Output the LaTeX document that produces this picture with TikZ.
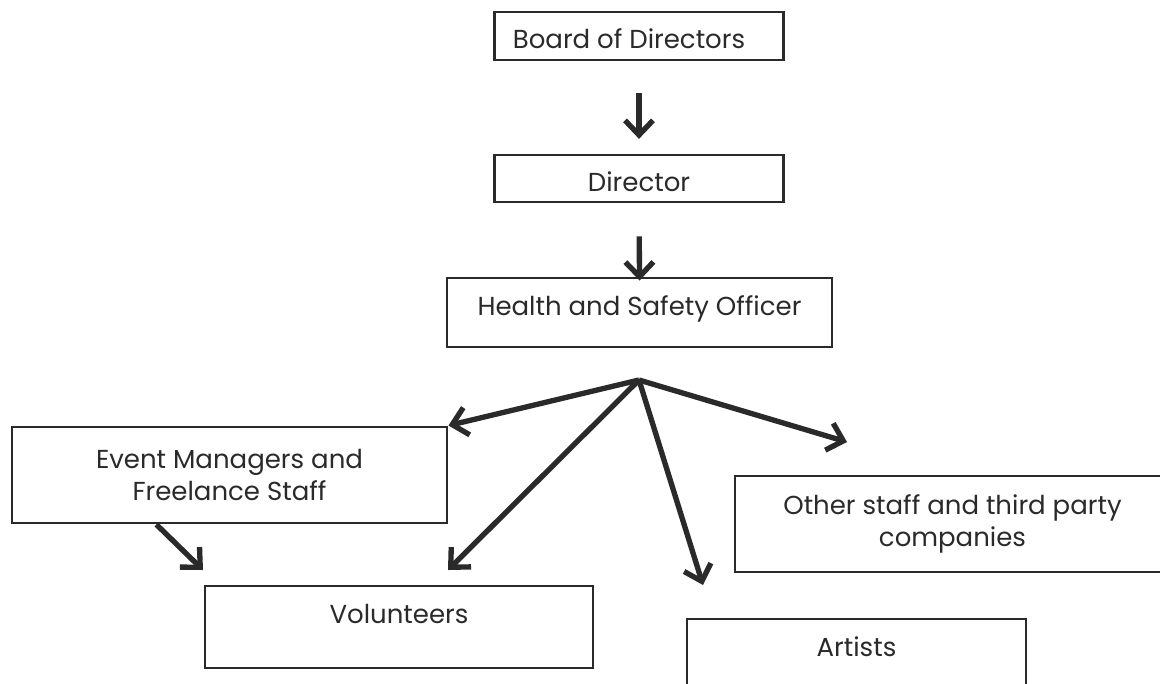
\documentclass[tikz,border=0pt]{standalone}
\usepackage{fontspec}
\setmainfont{Poppins}
\usetikzlibrary{arrows.meta,calc}
\definecolor{ink}{HTML}{2A2A2A}
\begin{document}
\begin{tikzpicture}[x=0.75pt,y=-0.75pt,
  box/.style={draw=ink, line width=2.2pt, rectangle, inner sep=0pt, align=center,
    font=\fontsize{19.5}{24}\selectfont, text=ink},
  arr/.style={draw=ink, line width=4pt, -{Straight Barb[length=11pt,width=21pt]}}]
\useasboundingbox (0,0) rectangle (1160,683);
\fill[white] (0,0) rectangle (1160,683);

\node[box, minimum width=216.75pt, minimum height=36pt, text height=18.8pt, text depth=0pt] (board) at (639,36) {\hspace*{-15pt}Board of Directors};
\node[box, minimum width=216.75pt, minimum height=35.25pt, text height=19.6pt, text depth=0pt] (dir) at (639,178.5) {Director};
\node[box, minimum width=288.75pt, minimum height=51.75pt, text height=13.6pt, text depth=9.8pt] (hso) at (639.5,312.5) {Health and Safety Officer};
\node[box, minimum width=326.25pt, minimum height=72pt] (em) at (229.5,475) {Event Managers and\\Freelance Staff};
\node[box, minimum width=291pt, minimum height=61.5pt, text height=13.6pt, text depth=19.5pt] (vol) at (399,627) {Volunteers};
\node[box, minimum width=326.25pt, minimum height=72pt] (other) at (952.5,524) {Other staff and third party\\companies};
\node[box, minimum width=254.25pt, minimum height=53.25pt, text height=13.6pt, text depth=10.5pt] (art) at (856.5,654.5) {Artists};

\coordinate (hub) at (639,380);
\coordinate (volend) at (448,570);
\coordinate (artend) at (703,585);
\coordinate (othend) at (847,442);
\coordinate (emout) at ($(em.south west)!0.333!(em.south east)$);
\coordinate (emvolend) at (203,570);

\draw[arr, shorten <=24pt, shorten >=11pt] (board.south) -- (dir.north);
\draw[arr, shorten <=24.75pt, shorten >=-3pt] (dir.south) -- (hso.north);
\draw[arr] (hub) -- (em.north east);
\draw[arr] (hub) -- (volend);
\draw[arr] (hub) -- (artend);
\draw[arr] (hub) -- (othend);
\draw[arr] (emout) -- (emvolend);
\end{tikzpicture}
\end{document}
